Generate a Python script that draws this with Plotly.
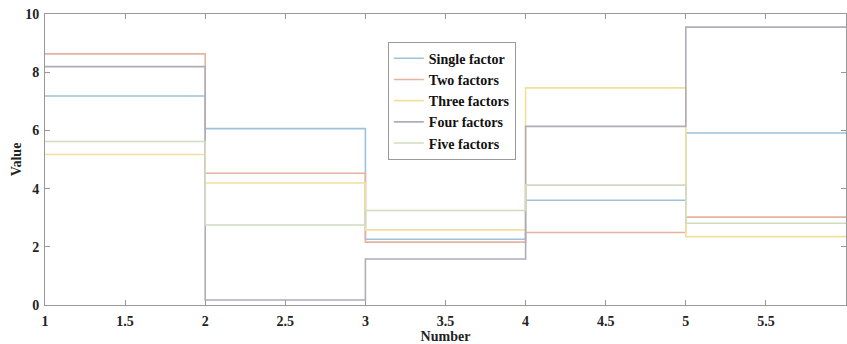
import plotly.graph_objects as go

x_steps = [1, 2, 3, 4, 5, 6]
series_names = ["Single factor", "Two factors", "Three factors", "Four factors", "Five factors"]
single = [7.18, 6.06, 2.26, 3.60, 5.91]
two = [8.63, 4.53, 2.16, 2.49, 3.02]
three = [5.17, 4.19, 2.58, 7.46, 2.35]
four = [8.19, 0.17, 1.58, 6.14, 9.55]
five = [5.62, 2.75, 3.25, 4.12, 2.81]
colors = ["#9cc2dc", "#e6b2a2", "#f2e09a", "#b0acb8", "#cfdcc0"]
x_tickvals = [1, 1.5, 2, 2.5, 3, 3.5, 4, 4.5, 5, 5.5]
x_ticktext = ["1", "1.5", "2", "2.5", "3", "3.5", "4", "4.5", "5", "5.5"]
y_tickvals = [0, 2, 4, 6, 8, 10]

fig = go.Figure()
for name, vals, col in zip(series_names, [single, two, three, four, five], colors):
    fig.add_trace(go.Scatter(
        x=x_steps, y=vals + [vals[-1]], mode="lines", name=name,
        line=dict(color=col, width=1.6, shape="hv"),
    ))

bold = dict(family="Liberation Serif", size=14, color="#222222", weight="bold")
fig.update_layout(
    width=847, height=344, autosize=False,
    margin=dict(l=45, r=1, t=14, b=39, autoexpand=False),
    paper_bgcolor="white", plot_bgcolor="white",
    font=bold,
    showlegend=True,
    legend=dict(
        x=0.428, y=0.905, xanchor="left", yanchor="top",
        bgcolor="white", bordercolor="#999999", borderwidth=1,
        font=dict(family="Liberation Serif", size=14, color="#111111", weight="bold"),
        tracegroupgap=0, itemwidth=30,
    ),
)
fig.update_xaxes(
    range=[1, 6], tickvals=x_tickvals, ticktext=x_ticktext, automargin=False,
    showgrid=False, zeroline=False,
    showline=True, linecolor="#999999", linewidth=1, mirror="ticks",
    ticks="inside", ticklen=5, tickcolor="#999999",
    tickfont=bold, ticklabelstandoff=3,
    title=dict(text="Number", standoff=0, font=bold),
)
fig.update_yaxes(
    range=[0, 10], tickvals=y_tickvals, automargin=False,
    showgrid=False, zeroline=False,
    showline=True, linecolor="#999999", linewidth=1, mirror="ticks",
    ticks="inside", ticklen=5, tickcolor="#999999",
    tickfont=bold, ticklabelstandoff=2,
    title=dict(text="Value", standoff=0, font=bold),
)
fig.write_html(
    "out.html",
    config={"responsive": False, "displayModeBar": False},
    post_script="document.body.style.margin='0';document.body.style.overflow='hidden';",
)
